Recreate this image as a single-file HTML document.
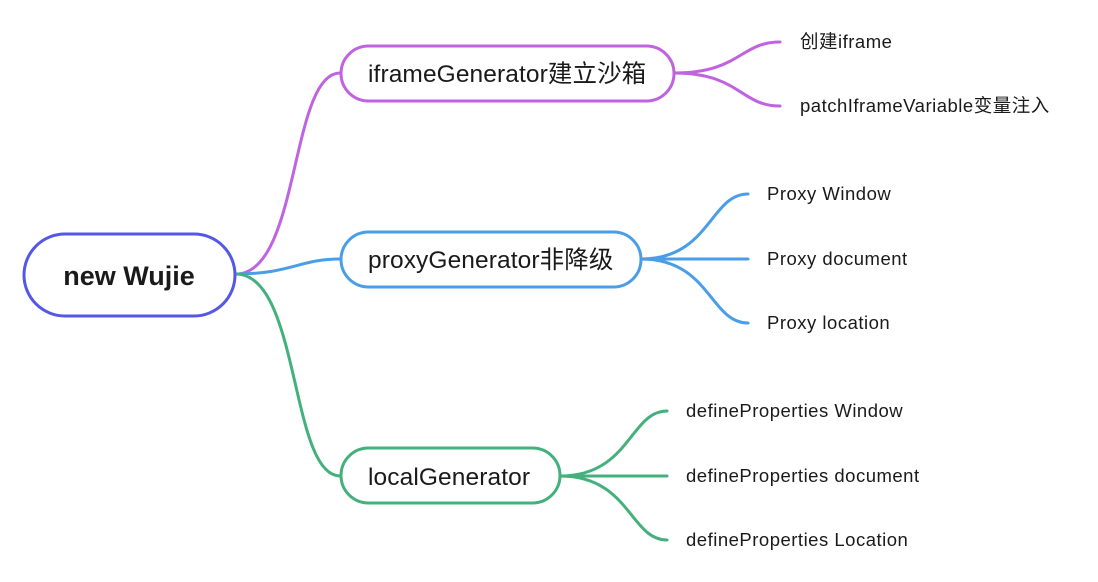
<!DOCTYPE html>
<html><head><meta charset="utf-8"><style>
body{margin:0;background:#fff;}
svg{display:block}
text{font-family:"Liberation Sans","Noto Sans CJK SC",sans-serif;fill:#1a1a1a}
</style></head><body>
<svg width="1098" height="582" viewBox="0 0 1098 582">
<g fill="none" stroke-width="3" stroke-linecap="round">
<path d="M236 274 C 300 274, 290 73, 340 73" stroke="#c063e0"/>
<path d="M236 274 C 290 274, 300 259, 340 259" stroke="#4a9ee8"/>
<path d="M236 274 C 300 274, 290 476, 340 476" stroke="#44b07c"/>
<path d="M674 73 C 740 73, 740 42, 780 42 M674 73 C 740 73, 740 106, 780 106" stroke="#c063e0"/>
<path d="M641 259 C 710 259, 710 194, 748 194 M641 259 L748 259 M641 259 C 710 259, 710 323, 748 323" stroke="#4a9ee8"/>
<path d="M560 476 C 630 476, 630 411, 667 411 M560 476 L667 476 M560 476 C 630 476, 630 540, 667 540" stroke="#44b07c"/>
<rect x="24" y="234" width="211" height="82" rx="41" stroke="#5557e6" fill="#fff"/>
<rect x="341" y="46" width="333" height="55" rx="27.5" stroke="#c063e0" fill="#fff"/>
<rect x="341" y="232" width="300" height="55" rx="27.5" stroke="#4a9ee8" fill="#fff"/>
<rect x="341" y="448" width="219" height="55" rx="27.5" stroke="#44b07c" fill="#fff"/>
</g>
<text x="129" y="285" font-size="27" font-weight="bold" text-anchor="middle">new Wujie</text>
<g font-size="24.5" letter-spacing="0.1">
<text x="368" y="82">iframeGenerator建立沙箱</text>
<text x="368" y="268">proxyGenerator非降级</text>
<text x="368" y="485">localGenerator</text>
</g>
<g font-size="18.5" letter-spacing="0.5">
<text x="800" y="48">创建iframe</text>
<text x="800" y="112">patchIframeVariable变量注入</text>
<text x="767" y="200">Proxy Window</text>
<text x="767" y="265">Proxy document</text>
<text x="767" y="329">Proxy location</text>
<text x="686" y="417">defineProperties Window</text>
<text x="686" y="482">defineProperties document</text>
<text x="686" y="546">defineProperties Location</text>
</g>
</svg>
</body></html>
